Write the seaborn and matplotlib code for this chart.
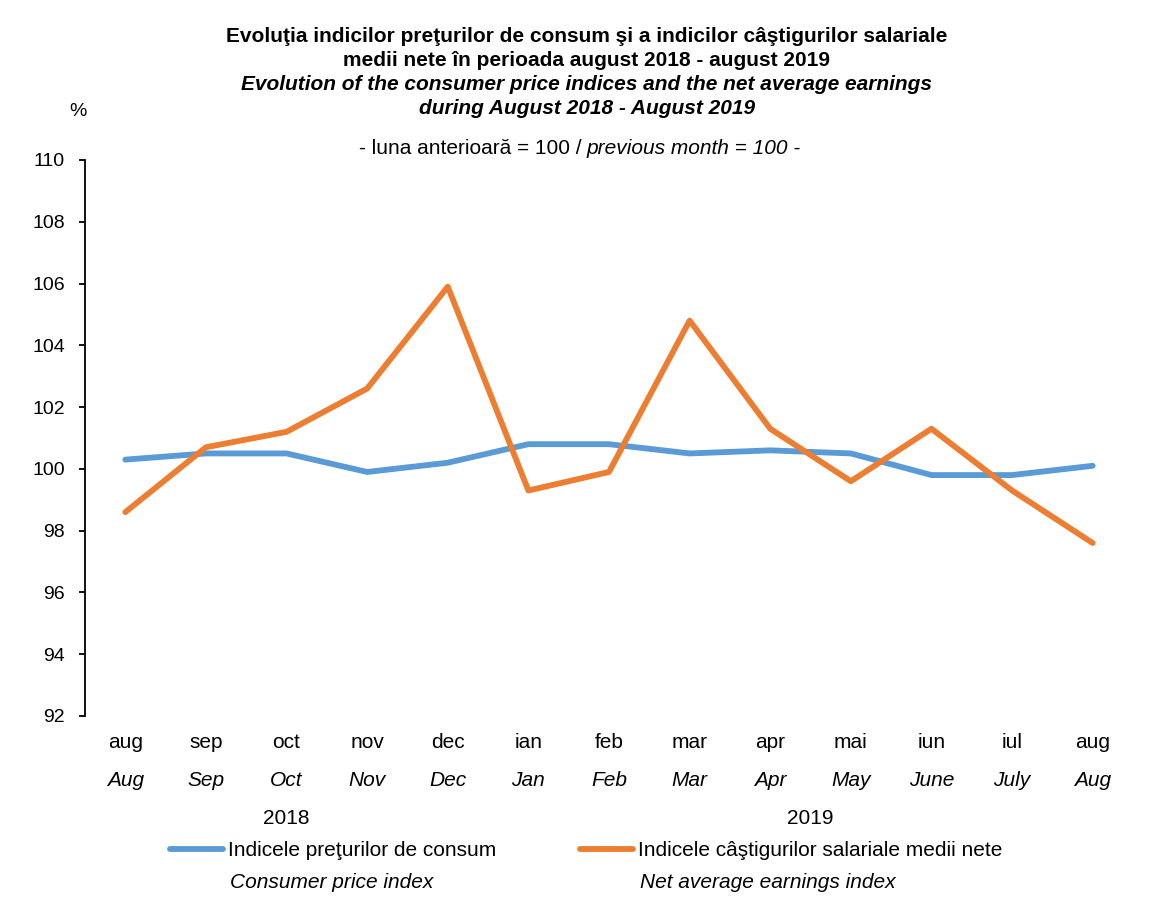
import matplotlib
matplotlib.use('Agg')
import matplotlib.pyplot as plt
import matplotlib.transforms as mtransforms
import seaborn as sns
import pandas as pd

# Data
months_ro = ['aug', 'sep', 'oct', 'nov', 'dec', 'ian', 'feb', 'mar', 'apr', 'mai', 'iun', 'iul', 'aug']
months_en = ['Aug', 'Sep', 'Oct', 'Nov', 'Dec', 'Jan', 'Feb', 'Mar', 'Apr', 'May', 'June', 'July', 'Aug']
cpi = [100.3, 100.5, 100.5, 99.9, 100.2, 100.8, 100.8, 100.5, 100.6, 100.5, 99.8, 99.8, 100.1]
earnings = [98.6, 100.7, 101.2, 102.6, 105.9, 99.3, 99.9, 104.8, 101.3, 99.6, 101.3, 99.3, 97.6]
years = ['2018', '2019']
year_centers = [2, 8.5]
series_ro = ['Indicele preţurilor de consum', 'Indicele câştigurilor salariale medii nete']
series_en = ['Consumer price index', 'Net average earnings index']
yticks = list(range(92, 111, 2))

df = pd.DataFrame({
    'idx': list(range(len(cpi))) * 2,
    'value': cpi + earnings,
    'series': [series_ro[0]] * len(cpi) + [series_ro[1]] * len(earnings),
})

sns.set_theme(style='white')
plt.rcParams['font.family'] = ['Liberation Sans', 'DejaVu Sans']
plt.rcParams['text.color'] = 'black'
plt.rcParams['ytick.color'] = 'black'

FS = 15
W, H = 1165, 906
fig = plt.figure(figsize=(W / 100, H / 100), dpi=100)
ax = fig.add_axes([85 / W, 1 - 716 / H, (1133 - 85) / W, (716 - 160) / H])

palette = {series_ro[0]: '#5B9BD5', series_ro[1]: '#ED7D31'}
sns.lineplot(data=df, x='idx', y='value', hue='series', palette=palette,
             linewidth=4.2, ax=ax, solid_capstyle='round', legend=True)

ax.set_xlim(-0.5, 12.5)
ax.set_ylim(92, 110)
ax.set_yticks(yticks)
ax.set_yticklabels([str(t) for t in yticks], fontsize=14)
ax.set_xticks([])
ax.set_xlabel('')
ax.set_ylabel('')
for s in ['top', 'right', 'bottom']:
    ax.spines[s].set_visible(False)
ax.spines['left'].set_color('black')
ax.spines['left'].set_linewidth(1.3)
ax.tick_params(axis='y', left=True, length=4.5, width=1.3, color='black', pad=10, labelcolor='black')

# category labels under the axis
tr = mtransforms.blended_transform_factory(ax.transData, fig.transFigure)
for i in range(len(months_ro)):
    ax.text(i, 1 - 742 / H, months_ro[i], transform=tr, ha='center', va='center', fontsize=FS)
    ax.text(i, 1 - 780 / H, months_en[i], transform=tr, ha='center', va='center',
            fontsize=FS, style='italic')
for yr, c in zip(years, year_centers):
    ax.text(c, 1 - 818 / H, yr, transform=tr, ha='center', va='center', fontsize=FS)

# legend: one entry per block, each with an italic English line below
handles, labels = ax.get_legend_handles_labels()
ax.get_legend().remove()
legend_x = [170, 580]
for h, lab, en, lx in zip(handles, labels, series_en, legend_x):
    leg = fig.legend([h], [lab], frameon=False, fontsize=FS, loc='center left',
                     bbox_to_anchor=(lx / W, 1 - 851 / H), handlelength=2.55,
                     handletextpad=0.25, borderaxespad=0, borderpad=0)
    for txt in leg.get_texts():
        txt.set_color('black')
    fig.text((lx + 60) / W, 1 - 882 / H, en, ha='left', va='center', fontsize=FS, style='italic')

# titles
cx = 587 / W
fig.text(cx, 1 - 36 / H, 'Evoluţia indicilor preţurilor de consum şi a indicilor câştigurilor salariale',
         ha='center', va='center', fontsize=FS, weight='bold')
fig.text(cx, 1 - 60 / H, 'medii nete în perioada august 2018 - august 2019',
         ha='center', va='center', fontsize=FS, weight='bold')
fig.text(cx, 1 - 84 / H, 'Evolution of the consumer price indices and the net average earnings',
         ha='center', va='center', fontsize=FS, weight='bold', style='italic')
fig.text(cx, 1 - 108 / H, 'during August 2018 - August 2019',
         ha='center', va='center', fontsize=FS, weight='bold', style='italic')
fig.text(cx, 1 - 148 / H, '- luna anterioară = 100 / ', ha='right', va='center', fontsize=FS)
fig.text(cx, 1 - 148 / H, 'previous month = 100 -', ha='left', va='center', fontsize=FS, style='italic')
fig.text(78 / W, 1 - 112 / H, '%', ha='center', va='center', fontsize=14)

fig.savefig('out.png', dpi=100)
